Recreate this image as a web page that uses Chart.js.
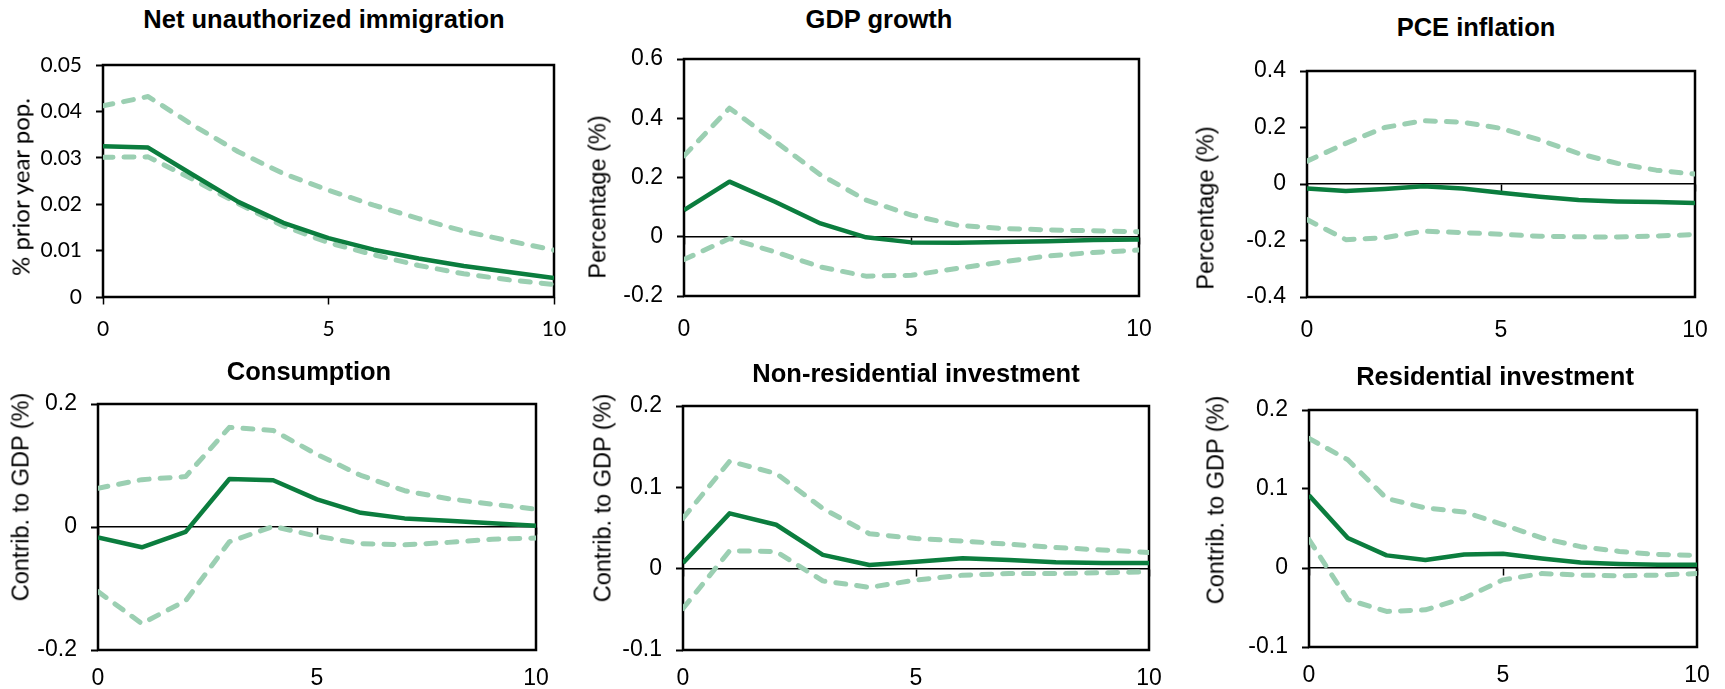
<!DOCTYPE html>
<html>
<head>
<meta charset="utf-8">
<script src="https://cdn.jsdelivr.net/npm/chart.js@4.4.1/dist/chart.umd.min.js"></script>
<style>
  body { margin: 0; background: #fff; width: 1725px; height: 689px; position: relative; overflow: hidden; }
  canvas { position: absolute; }
  .title { position: absolute; transform: translate(-50%, -50%); font: bold 25.5px "Liberation Sans", Arial, sans-serif; white-space: nowrap; color: #000; }
  .ytitle { position: absolute; transform: translate(-50%, -50%) rotate(-90deg); font: 23.5px "Liberation Sans", Arial, sans-serif; white-space: nowrap; color: #000; }
</style>
</head>
<body>
<script>
// quarters after the shock
const steps = [0, 1, 2, 3, 4, 5, 6, 7, 8, 9, 10];
const xTicks = [0, 5, 10];

// Net unauthorized immigration (% prior year pop.)
const immCentral = [0.0325, 0.0322, 0.0263, 0.0205, 0.0160, 0.0127, 0.0102, 0.0083, 0.0067, 0.0054, 0.0041];
const immUpper   = [0.0412, 0.0432, 0.0370, 0.0313, 0.0266, 0.0230, 0.0198, 0.0169, 0.0142, 0.0121, 0.0101];
const immLower   = [0.0301, 0.0302, 0.0253, 0.0201, 0.0153, 0.0117, 0.0091, 0.0068, 0.0050, 0.0037, 0.0027];

// GDP growth
const gdpCentral = [0.090, 0.186, 0.118, 0.045, -0.002, -0.019, -0.020, -0.018, -0.015, -0.011, -0.009];
const gdpUpper   = [0.273, 0.434, 0.322, 0.209, 0.124, 0.073, 0.039, 0.028, 0.023, 0.020, 0.017];
const gdpLower   = [-0.077, -0.006, -0.051, -0.102, -0.133, -0.130, -0.107, -0.085, -0.065, -0.053, -0.045];

// PCE inflation
const pceCentral = [-0.016, -0.025, -0.018, -0.008, -0.016, -0.031, -0.045, -0.057, -0.062, -0.064, -0.067];
const pceUpper   = [0.081, 0.144, 0.200, 0.224, 0.219, 0.197, 0.156, 0.108, 0.073, 0.049, 0.035];
const pceLower   = [-0.126, -0.197, -0.190, -0.167, -0.172, -0.178, -0.185, -0.187, -0.188, -0.184, -0.179];

// Consumption
const conCentral = [-0.017, -0.033, -0.008, 0.078, 0.076, 0.045, 0.023, 0.014, 0.010, 0.006, 0.002];
const conUpper   = [0.063, 0.077, 0.082, 0.162, 0.157, 0.118, 0.084, 0.059, 0.046, 0.037, 0.029];
const conLower   = [-0.105, -0.157, -0.120, -0.024, 0.001, -0.015, -0.027, -0.029, -0.025, -0.020, -0.018];

// Non-residential investment
const nriCentral = [0.007, 0.068, 0.054, 0.017, 0.0045, 0.0086, 0.0127, 0.0107, 0.0078, 0.007, 0.007];
const nriUpper   = [0.062, 0.132, 0.117, 0.074, 0.043, 0.037, 0.034, 0.030, 0.026, 0.023, 0.020];
const nriLower   = [-0.049, 0.022, 0.021, -0.015, -0.023, -0.014, -0.008, -0.006, -0.006, -0.005, -0.004];

// Residential investment
const resCentral = [0.092, 0.038, 0.016, 0.010, 0.017, 0.018, 0.012, 0.007, 0.005, 0.004, 0.004];
const resUpper   = [0.164, 0.137, 0.088, 0.076, 0.071, 0.055, 0.038, 0.027, 0.021, 0.017, 0.016];
const resLower   = [0.036, -0.040, -0.055, -0.053, -0.038, -0.015, -0.007, -0.009, -0.010, -0.009, -0.007];

// y axis ranges: min, max, step
const immTicks = [0, 0.05, 0.01];
const gdpTicks = [-0.2, 0.6, 0.2];
const pceTicks = [-0.4, 0.4, 0.2];
const conTicks = [-0.2, 0.2, 0.2];
const nriTicks = [-0.1, 0.2, 0.1];
const resTicks = [-0.1, 0.2, 0.1];

const DARK = '#0b7d3e';
const LIGHT = '#9bcfb2';
const ARIAL = '"Liberation Sans", Arial, sans-serif';
const CALIBRI = 'Lato, "Liberation Sans", sans-serif';

const panels = [
  { title: 'Net unauthorized immigration', ytitle: '% prior year pop.', c: immCentral, u: immUpper, l: immLower, t: immTicks, font: CALIBRI, size: 21, ysize: 24,
    box: [103, 65, 554, 297], xpad: 12, tpos: [324, 19], ypos: [20, 187] },
  { title: 'GDP growth', ytitle: 'Percentage (%)', c: gdpCentral, u: gdpUpper, l: gdpLower, t: gdpTicks, font: ARIAL, size: 23, ysize: 23.5,
    box: [684, 59, 1139, 296], xpad: 12, tpos: [879, 19], ypos: [598, 197] },
  { title: 'PCE inflation', ytitle: 'Percentage (%)', c: pceCentral, u: pceUpper, l: pceLower, t: pceTicks, font: ARIAL, size: 23, ysize: 23.5,
    box: [1307, 71, 1695, 297], xpad: 12, tpos: [1476, 27], ypos: [1206, 208] },
  { title: 'Consumption', ytitle: 'Contrib. to GDP (%)', c: conCentral, u: conUpper, l: conLower, t: conTicks, font: ARIAL, size: 23, ysize: 23.5,
    box: [98, 404, 536, 650], xpad: 7, tpos: [309, 371], ypos: [21, 497] },
  { title: 'Non-residential investment', ytitle: 'Contrib. to GDP (%)', c: nriCentral, u: nriUpper, l: nriLower, t: nriTicks, font: ARIAL, size: 23, ysize: 23.5,
    box: [683, 406, 1149, 650], xpad: 7, tpos: [916, 373], ypos: [603, 498] },
  { title: 'Residential investment', ytitle: 'Contrib. to GDP (%)', c: resCentral, u: resUpper, l: resLower, t: resTicks, font: ARIAL, size: 23, ysize: 23.5,
    box: [1309, 410, 1697, 647], xpad: 7, tpos: [1495, 376], ypos: [1216, 500] },
];

const framePlugin = {
  id: 'frame',
  beforeDatasetsDraw(chart) {
    const { ctx, chartArea: a } = chart;
    ctx.save();
    ctx.strokeStyle = '#000';
    ctx.lineWidth = 2.5;
    ctx.strokeRect(a.left, a.top, a.right - a.left, a.bottom - a.top);
    ctx.restore();
  }
};

function series(values, solid) {
  return {
    data: steps.map((s, i) => ({ x: s, y: values[i] })),
    borderColor: solid ? DARK : LIGHT,
    borderWidth: solid ? 4.5 : 5,
    borderDash: solid ? [] : [10, 11],
    borderCapStyle: solid ? 'butt' : 'round',
    borderJoinStyle: 'round',
    pointRadius: 0,
    tension: 0,
    fill: false,
    xAxisID: 'x',
    yAxisID: 'y',
  };
}

function addText(cls, text, pos, font, size) {
  const d = document.createElement('div');
  d.className = cls;
  d.textContent = text;
  d.style.left = pos[0] + 'px';
  d.style.top = pos[1] + 'px';
  if (font) d.style.fontFamily = font;
  if (size) d.style.fontSize = size + 'px';
  document.body.appendChild(d);
}

const fmt = v => String(+v.toFixed(4));
const AXW = 100, PADT = 20, PADR = 15, XAXH = 50;

panels.forEach(p => {
  const [L, T, R, B] = p.box;
  const c = document.createElement('canvas');
  const w = AXW + (R - L) + PADR, h = PADT + (B - T) + XAXH;
  c.width = w; c.height = h;
  c.style.left = (L - AXW) + 'px';
  c.style.top = (T - PADT) + 'px';
  c.style.width = w + 'px';
  c.style.height = h + 'px';
  document.body.appendChild(c);

  new Chart(c, {
    type: 'line',
    data: { datasets: [series(p.c, true), series(p.u, false), series(p.l, false)] },
    options: {
      responsive: false,
      animation: false,
      events: [],
      layout: { padding: { top: PADT, right: PADR, left: 0, bottom: 0 }, autoPadding: false },
      plugins: { legend: { display: false }, tooltip: { enabled: false }, title: { display: false } },
      scales: {
        x: {
          type: 'linear', min: 0, max: 10,
          afterBuildTicks: s => { s.ticks = xTicks.map(v => ({ value: v })); },
          grid: { display: false },
          border: { display: false },
          ticks: { color: '#000', padding: p.xpad, maxRotation: 0, font: { family: p.font, size: p.size }, callback: fmt },
          afterFit: s => { s.height = XAXH; s.paddingLeft = 0; s.paddingRight = 0; },
        },
        y: {
          type: 'linear', min: p.t[0], max: p.t[1],
          ticks: { stepSize: p.t[2], color: '#000', padding: 14, font: { family: p.font, size: p.size }, callback: fmt },
          grid: { drawOnChartArea: false, drawTicks: true, tickLength: 7, tickColor: '#000', tickWidth: 2 },
          border: { display: false },
          afterFit: s => { s.width = AXW; s.paddingTop = 0; s.paddingBottom = 0; },
        },
        x2: {
          axis: 'x', type: 'linear', min: 0, max: 10, position: { y: 0 },
          afterBuildTicks: s => { s.ticks = xTicks.map(v => ({ value: v })); },
          ticks: { display: false },
          grid: { drawOnChartArea: false, drawTicks: true, tickLength: 7, tickColor: '#000', tickWidth: 1.5 },
          border: { display: true, color: '#000', width: 1.5 },
          afterFit: s => { s.paddingLeft = 0; s.paddingRight = 0; },
        },
      },
    },
    plugins: [framePlugin],
  });

  addText('title', p.title, p.tpos);
  addText('ytitle', p.ytitle, p.ypos, p.font, p.ysize);
});
</script>
</body>
</html>
